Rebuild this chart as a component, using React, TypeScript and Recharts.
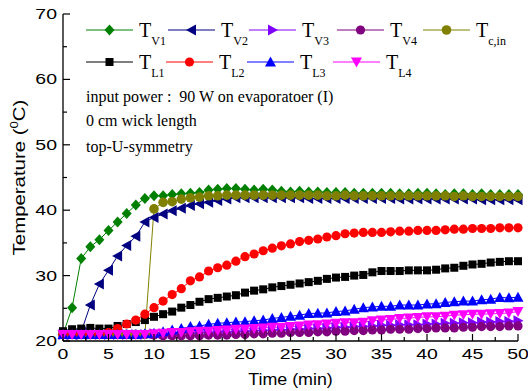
import React from 'react';
import { LineChart, Line, XAxis, YAxis, Legend } from 'recharts';

const minutes = [0, 1, 2, 3, 4, 5, 6, 7, 8, 9, 10, 11, 12, 13, 14, 15, 16, 17, 18, 19, 20, 21, 22, 23, 24, 25, 26, 27, 28, 29, 30, 31, 32, 33, 34, 35, 36, 37, 38, 39, 40, 41, 42, 43, 44, 45, 46, 47, 48, 49, 50];

const tV1 = [21.0, 25.1, 32.6, 34.4, 35.5, 36.9, 38.2, 39.5, 40.8, 41.8, 42.2, 42.2, 42.4, 42.5, 42.6, 42.7, 43.1, 43.2, 43.3, 43.3, 43.2, 43.1, 43.2, 43.1, 42.9, 42.8, 42.9, 42.8, 42.8, 42.7, 42.7, 42.7, 42.6, 42.6, 42.6, 42.6, 42.6, 42.5, 42.5, 42.6, 42.6, 42.5, 42.4, 42.5, 42.5, 42.4, 42.5, 42.4, 42.4, 42.4, 42.4];
const tV2 = [21.0, 21.0, 21.4, 25.5, 28.7, 30.8, 33.0, 34.6, 36.0, 38.2, 38.9, 39.4, 39.9, 40.3, 40.7, 41.0, 41.2, 41.5, 41.7, 41.9, 41.9, 41.9, 41.9, 41.9, 41.9, 41.9, 41.9, 41.8, 41.8, 41.8, 41.8, 41.8, 41.8, 41.8, 41.8, 41.8, 41.8, 41.7, 41.7, 41.7, 41.7, 41.7, 41.7, 41.7, 41.7, 41.7, 41.6, 41.6, 41.6, 41.6, 41.6];
const tV3 = [21.0, 21.0, 21.0, 21.0, 21.0, 21.0, 21.0, 21.0, 21.0, 21.0, 21.1, 21.1, 21.1, 21.2, 21.2, 21.3, 21.3, 21.4, 21.4, 21.5, 21.5, 21.6, 21.6, 21.7, 21.7, 21.8, 21.8, 21.9, 21.9, 22.0, 22.1, 22.1, 22.2, 22.2, 22.3, 22.4, 22.4, 22.5, 22.5, 22.5, 22.6, 22.6, 22.7, 22.7, 22.8, 22.8, 22.9, 22.9, 23.0, 23.0, 23.1];
const tV4 = [21.0, 21.0, 21.0, 21.0, 21.0, 21.0, 21.0, 21.0, 21.0, 21.0, 20.9, 20.8, 20.8, 20.8, 20.8, 20.8, 20.9, 20.9, 20.9, 21.0, 21.0, 21.1, 21.1, 21.2, 21.2, 21.3, 21.3, 21.3, 21.4, 21.4, 21.5, 21.5, 21.6, 21.6, 21.7, 21.7, 21.8, 21.8, 21.8, 21.9, 21.9, 22.0, 22.0, 22.0, 22.1, 22.1, 22.2, 22.2, 22.2, 22.3, 22.3];
const tCin = [21.0, 21.0, 21.0, 21.0, 21.0, 21.0, 21.0, 21.0, 21.0, 21.0, 40.2, 41.2, 41.3, 41.7, 41.9, 42.0, 42.2, 42.2, 42.3, 42.3, 42.3, 42.3, 42.3, 42.3, 42.3, 42.3, 42.3, 42.3, 42.3, 42.2, 42.2, 42.3, 42.2, 42.2, 42.2, 42.2, 42.2, 42.2, 42.2, 42.2, 42.2, 42.2, 42.2, 42.1, 42.2, 42.1, 42.1, 42.1, 42.1, 42.1, 42.1];
const tL1 = [21.5, 21.8, 21.9, 22.0, 21.9, 21.9, 22.3, 22.6, 22.9, 23.2, 23.7, 24.1, 24.5, 25.1, 25.5, 26.0, 26.4, 26.6, 26.8, 27.0, 27.4, 27.7, 27.9, 28.2, 28.4, 28.6, 28.8, 29.0, 29.2, 29.5, 29.7, 29.8, 30.0, 30.1, 30.5, 30.7, 30.7, 30.7, 30.8, 30.8, 30.8, 30.9, 31.1, 31.2, 31.5, 31.7, 31.8, 32.0, 32.1, 32.2, 32.2];
const tL2 = [21.0, 21.0, 21.0, 21.0, 21.0, 21.3, 21.9, 22.6, 23.2, 24.1, 25.1, 26.1, 27.1, 28.0, 29.2, 29.8, 30.7, 31.2, 31.6, 32.2, 32.9, 33.3, 33.8, 34.2, 34.55, 34.85, 35.2, 35.4, 35.6, 35.9, 36.1, 36.4, 36.5, 36.6, 36.6, 36.6, 36.7, 36.8, 36.8, 36.9, 36.9, 36.9, 37.0, 37.1, 37.1, 37.2, 37.2, 37.2, 37.3, 37.3, 37.3];
const tL3 = [21.0, 21.0, 21.0, 21.0, 21.0, 21.0, 21.0, 21.0, 21.0, 21.1, 21.2, 21.4, 21.7, 21.9, 22.2, 22.3, 22.55, 22.7, 22.8, 22.9, 22.95, 23.1, 23.2, 23.45, 23.6, 23.8, 23.95, 24.2, 24.25, 24.3, 24.5, 24.6, 24.85, 25.1, 25.2, 25.3, 25.3, 25.5, 25.5, 25.5, 25.65, 25.7, 25.9, 26.0, 26.1, 26.1, 26.3, 26.4, 26.65, 26.6, 26.7];
const tL4 = [21.0, 21.0, 21.0, 21.0, 21.0, 21.0, 21.0, 21.0, 21.0, 21.0, 21.1, 21.2, 21.3, 21.3, 21.4, 21.5, 21.5, 21.6, 21.7, 21.8, 21.85, 21.9, 22.0, 22.1, 22.1, 22.2, 22.3, 22.45, 22.5, 22.6, 22.7, 22.8, 22.8, 22.85, 23.1, 23.2, 23.3, 23.45, 23.5, 23.6, 23.7, 23.7, 23.8, 23.95, 24.0, 24.1, 24.1, 24.15, 24.2, 24.3, 24.5];

const xTickValues = [0, 2.5, 5, 7.5, 10, 12.5, 15, 17.5, 20, 22.5, 25, 27.5, 30, 32.5, 35, 37.5, 40, 42.5, 45, 47.5, 50];
const yTickValues = [20, 25, 30, 35, 40, 45, 50, 55, 60, 65, 70];

const annotations = ['input power :  90 W on evaporatoer (I)', '0 cm wick length', 'top-U-symmetry'];

type Shape = 'diamond' | 'left' | 'right' | 'circle' | 'hex' | 'square' | 'up' | 'down';

interface Series { key: string; main: string; sub: string; color: string; shape: Shape; values: number[]; }

const series: Series[] = [
  { key: 'tv1', main: 'T', sub: 'V1', color: '#008000', shape: 'diamond', values: tV1 },
  { key: 'tv2', main: 'T', sub: 'V2', color: '#000080', shape: 'left', values: tV2 },
  { key: 'tv3', main: 'T', sub: 'V3', color: '#8000ff', shape: 'right', values: tV3 },
  { key: 'tv4', main: 'T', sub: 'V4', color: '#800080', shape: 'circle', values: tV4 },
  { key: 'tcin', main: 'T', sub: 'c,in', color: '#808000', shape: 'hex', values: tCin },
  { key: 'tl1', main: 'T', sub: 'L1', color: '#000000', shape: 'square', values: tL1 },
  { key: 'tl2', main: 'T', sub: 'L2', color: '#ff0000', shape: 'circle', values: tL2 },
  { key: 'tl3', main: 'T', sub: 'L3', color: '#0000ff', shape: 'up', values: tL3 },
  { key: 'tl4', main: 'T', sub: 'L4', color: '#ff00ff', shape: 'down', values: tL4 },
];

const rows = minutes.map((t, i) => {
  const r: Record<string, number> = { t };
  series.forEach((s) => { r[s.key] = s.values[i]; });
  return r;
});

const SANS = 'Arial, "Liberation Sans", sans-serif';
const SERIF = '"Times New Roman", "Liberation Serif", serif';
const AXIS_COLOR = '#000';

function Marker({ shape, cx, cy, color }: { shape: Shape; cx: number; cy: number; color: string }) {
  const p = (pts: number[][]) => pts.map((q) => `${q[0]},${q[1]}`).join(' ');
  switch (shape) {
    case 'diamond':
      return <polygon points={p([[cx, cy - 5.5], [cx + 5, cy], [cx, cy + 5.5], [cx - 5, cy]])} fill={color} />;
    case 'left':
      return <polygon points={p([[cx - 5.5, cy], [cx + 4.5, cy - 5.5], [cx + 4.5, cy + 5.5]])} fill={color} />;
    case 'right':
      return <polygon points={p([[cx + 5.5, cy], [cx - 4.5, cy - 5.5], [cx - 4.5, cy + 5.5]])} fill={color} />;
    case 'up':
      return <polygon points={p([[cx, cy - 5.5], [cx + 5.5, cy + 4.5], [cx - 5.5, cy + 4.5]])} fill={color} />;
    case 'down':
      return <polygon points={p([[cx, cy + 5.5], [cx + 5.5, cy - 4.5], [cx - 5.5, cy - 4.5]])} fill={color} />;
    case 'square':
      return <rect x={cx - 4} y={cy - 4} width={8} height={8} fill={color} />;
    case 'hex':
      return <circle cx={cx} cy={cy} r={4.8} fill={color} />;
    default:
      return <circle cx={cx} cy={cy} r={4.6} fill={color} />;
  }
}

const makeDot = (s: Series) => (props: any) => {
  const { cx, cy, index } = props;
  if (cx == null || cy == null) return <g key={`${s.key}-${index}`} />;
  return (
    <g key={`${s.key}-${index}`}>
      <Marker shape={s.shape} cx={cx} cy={cy} color={s.color} />
    </g>
  );
};

function BottomTick(props: any) {
  const { x, y, payload } = props;
  const v = payload.value;
  const major = v % 5 === 0;
  return (
    <g>
      <line x1={x} x2={x} y1={y} y2={y - (major ? 7 : 4)} stroke={AXIS_COLOR} strokeWidth={1.2} />
      {major && (
        <text transform={`translate(${x} ${y + 18}) scale(1.39 1)`} textAnchor="middle" fontFamily={SANS} fontSize={14} fill="#000">
          {v}
        </text>
      )}
    </g>
  );
}

function TopTick(props: any) {
  const { x, y, payload } = props;
  const major = payload.value % 5 === 0;
  return <line x1={x} x2={x} y1={y} y2={y + (major ? 7 : 4)} stroke={AXIS_COLOR} strokeWidth={1.2} />;
}

function LeftTick(props: any) {
  const { x, y, payload } = props;
  const v = payload.value;
  const major = v % 10 === 0;
  return (
    <g>
      <line x1={x} x2={x + (major ? 7 : 4)} y1={y} y2={y} stroke={AXIS_COLOR} strokeWidth={1.2} />
      {major && (
        <text transform={`translate(${x - 6} ${y + 5}) scale(1.39 1)`} textAnchor="end" fontFamily={SANS} fontSize={14} fill="#000">
          {v}
        </text>
      )}
    </g>
  );
}

function RightTick(props: any) {
  const { x, y, payload } = props;
  const major = payload.value % 10 === 0;
  return <line x1={x} x2={x - (major ? 7 : 4)} y1={y} y2={y} stroke={AXIS_COLOR} strokeWidth={1.2} />;
}

function XTitle(props: any) {
  const vb = props.viewBox || { x: 63, y: 341, width: 455, height: 50 };
  const cx = vb.x + vb.width / 2;
  return (
    <text transform={`translate(${cx} ${vb.y + 44}) scale(1.05 1)`} textAnchor="middle" fontFamily={SANS} fontSize={17} fill="#000">
      Time (min)
    </text>
  );
}

function YTitle(props: any) {
  const vb = props.viewBox || { x: 0, y: 14, width: 63, height: 327 };
  const cy = vb.y + vb.height / 2;
  return (
    <text transform={`translate(${vb.x + 25} ${cy}) rotate(-90) scale(1.2 1)`} textAnchor="middle" fontFamily={SANS} fontSize={17} fill="#000">
      Temperature (<tspan fontSize={11} dy={-7}>0</tspan>
      <tspan dy={7}>C)</tspan>
    </text>
  );
}

const legendRows = [
  ['tv1', 'tv2', 'tv3', 'tv4', 'tcin'],
  ['tl1', 'tl2', 'tl3', 'tl4'],
];
const legendLayout = [
  { y: 30, starts: [86, 168, 249, 337, 423] },
  { y: 62, starts: [86, 166, 247, 333] },
];

function LegendOverlay() {
  return (
    <svg width={528} height={170} style={{ position: 'absolute', left: 0, top: 0, overflow: 'visible' }}>
      {legendRows.map((row, ri) =>
        row.map((k, i) => {
          const s = series.find((q) => q.key === k)!;
          const x0 = legendLayout[ri].starts[i];
          const y = legendLayout[ri].y;
          return (
            <g key={k}>
              <line x1={x0} x2={x0 + 47} y1={y} y2={y} stroke={s.color} strokeWidth={1.2} />
              <Marker shape={s.shape} cx={x0 + 23.5} cy={y} color={s.color} />
              <text x={x0 + 53} y={y + 7} fontFamily={SERIF} fontSize={20} fill="#000">
                {s.main}
                <tspan fontSize={12} dy={8}>{s.sub}</tspan>
              </text>
            </g>
          );
        })
      )}
      {annotations.map((a, i) => (
        <text key={a} x={86} y={[102, 126, 152][i]} fontFamily={SERIF} fontSize={16} fill="#000" style={{ whiteSpace: 'pre' }}>
          {a}
        </text>
      ))}
    </svg>
  );
}

export default function App() {
  return (
    <div style={{ position: 'absolute', left: 0, top: 0, width: 528, height: 391, background: '#fff' }}>
      <LineChart width={528} height={391} data={rows} margin={{ top: 14, right: 10, bottom: 0, left: 0 }}>
        <XAxis
          dataKey="t"
          type="number"
          domain={[0, 50]}
          ticks={xTickValues}
          interval={0}
          tick={<BottomTick />}
          tickLine={false}
          tickSize={0}
          tickMargin={0}
          axisLine={{ stroke: AXIS_COLOR, strokeWidth: 1.3 }}
          height={50}
          label={<XTitle />}
        />
        <XAxis
          xAxisId="top"
          orientation="top"
          type="number"
          domain={[0, 50]}
          allowDataOverflow
          ticks={xTickValues}
          interval={0}
          tick={<TopTick />}
          tickLine={false}
          tickSize={0}
          tickMargin={0}
          axisLine={{ stroke: AXIS_COLOR, strokeWidth: 1.3 }}
          height={0}
        />
        <YAxis
          type="number"
          domain={[20, 70]}
          ticks={yTickValues}
          interval={0}
          tick={<LeftTick />}
          tickLine={false}
          tickSize={0}
          tickMargin={0}
          axisLine={{ stroke: AXIS_COLOR, strokeWidth: 1.3 }}
          width={63}
          label={<YTitle />}
        />
        <YAxis
          yAxisId="right"
          orientation="right"
          type="number"
          domain={[20, 70]}
          allowDataOverflow
          ticks={yTickValues}
          interval={0}
          tick={<RightTick />}
          tickLine={false}
          tickSize={0}
          tickMargin={0}
          axisLine={{ stroke: '#444', strokeWidth: 1.8 }}
          width={0}
        />
        <Legend
          verticalAlign="middle"
          align="center"
          layout="horizontal"
          wrapperStyle={{ position: 'absolute', left: 0, top: 0, width: 528, height: 170, pointerEvents: 'none' }}
          content={() => <LegendOverlay />}
        />
        {series.map((s) => (
          <Line
            key={s.key}
            dataKey={s.key}
            type="linear"
            stroke={s.color}
            strokeWidth={1}
            dot={makeDot(s)}
            activeDot={false}
            isAnimationActive={false}
          />
        ))}
      </LineChart>
    </div>
  );
}
